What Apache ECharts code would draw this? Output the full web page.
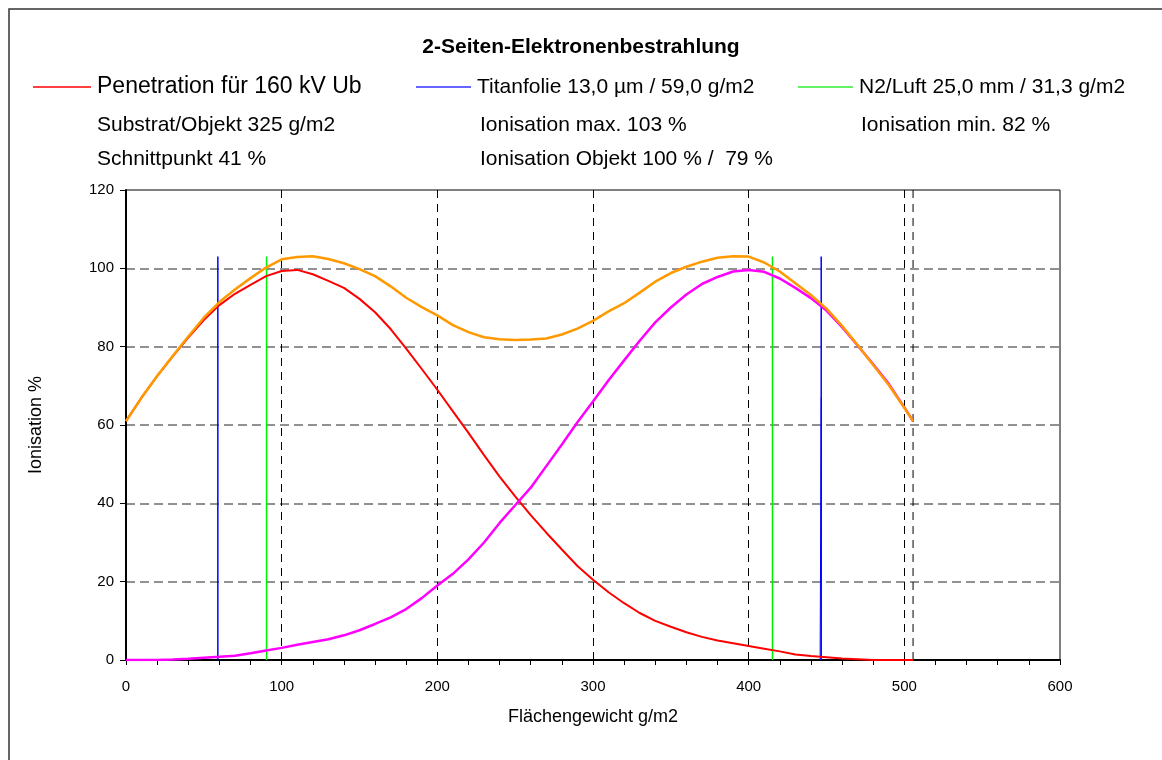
<!DOCTYPE html>
<html>
<head>
<meta charset="utf-8">
<title>2-Seiten-Elektronenbestrahlung</title>
<script src="https://cdn.jsdelivr.net/npm/echarts@6/dist/echarts.min.js"></script>
<style>
  html, body { margin: 0; padding: 0; background: #fff; }
  #chart { width: 1162px; height: 760px; }
</style>
</head>
<body>
<div id="chart"></div>
<script>
// Flächengewicht (g/m2) sample points
const weights = [0, 10, 20, 30, 40, 50, 60, 70, 80, 90, 100, 110, 120, 130, 140, 150, 160, 170, 180, 190,
  200, 210, 220, 230, 240, 250, 260, 270, 280, 290, 300, 310, 320, 330, 340, 350, 360, 370, 380, 390,
  400, 410, 420, 430, 440, 450, 460, 470, 480, 490, 500, 505.6];
// penetration from the left side (red)
const penLeft = [61, 67, 72.5, 77.5, 82.3, 86.8, 90.6, 93.5, 95.8, 98, 99.3, 99.6, 98.5, 96.8, 95, 92.2, 88.8, 84.5, 79.5, 74.3,
  69, 63.5, 58, 52.3, 46.8, 41.8, 37, 32.5, 28.2, 24, 20.5, 17.3, 14.5, 12, 10, 8.5, 7.1, 5.9, 5, 4.3,
  3.6, 2.9, 2.2, 1.4, 1, 0.7, 0.4, 0.2, 0, 0, 0, 0];
// penetration from the right side (magenta)
const penRight = [0, 0, 0, 0.1, 0.3, 0.6, 0.8, 1.1, 1.7, 2.4, 3.1, 3.9, 4.6, 5.3, 6.3, 7.6, 9.2, 10.9, 13, 15.8,
  19, 22, 25.7, 30, 35, 39.5, 44, 49.5, 55, 60.7, 66, 71.4, 76.5, 81.5, 86.2, 90, 93.3, 96, 97.8, 99.2,
  99.6, 99.1, 97.4, 95, 92.4, 89.2, 85, 80.3, 75.5, 70.5, 64.5, 61];
// total ionisation (orange)
const total = [61, 67, 72.5, 77.6, 82.6, 87.4, 91.4, 94.6, 97.5, 100.2, 102.3, 102.9, 103.1, 102.4, 101.3, 99.8, 98, 95.4, 92.5, 90.1,
  88, 85.5, 83.7, 82.4, 81.9, 81.7, 81.8, 82.1, 83.1, 84.6, 86.6, 89, 91.1, 93.8, 96.6, 98.8, 100.4, 101.7, 102.7, 103.1,
  103, 101.5, 99.2, 96.2, 93.2, 89.7, 85.3, 80.4, 75.3, 70.2, 64.4, 61];

// layer boundaries
const foilPos = [59, 446.6];
const airPos = [90.3, 415.3];
const markerTop = 103;
const totalEnd = 505.6;
const axisMax = 120;

const nameRed = "Penetration für 160 kV Ub";
const nameBlue = "Titanfolie 13,0 µm / 59,0 g/m2";
const nameGreen = "N2/Luft 25,0 mm / 31,3 g/m2";
const infoTexts = [
  ["Substrat/Objekt 325 g/m2", 97, 123.5],
  ["Ionisation max. 103 %", 480, 123.5],
  ["Ionisation min. 82 %", 861, 123.5],
  ["Schnittpunkt 41 %", 97, 158],
  ["Ionisation Objekt 100 % /  79 %", 480, 158]
];

const font = "Liberation Sans, Arial, sans-serif";
const pairs = (ys) => weights.map((w, i) => [w, ys[i]]);

const vline = (name, x, color) => ({
  name: name,
  type: "line",
  data: [[x, 0], [x, markerTop]],
  showSymbol: false,
  silent: true,
  z: 1,
  lineStyle: { color: color, width: 1.5 },
  itemStyle: { color: color },
});

const legendItem = (name, left, width, color, size) => ({
  data: [{ name: name, itemStyle: { color: color } }],
  left: left, top: 88 - size / 2 - 1, padding: 0,
  icon: "rect", itemWidth: width, itemHeight: 1.5,
  selectedMode: false,
  textStyle: { fontSize: size, color: "#000", padding: [0, 0, 0, 1] },
});

const chart = echarts.init(document.getElementById("chart"));
const option = {
  animation: false,
  backgroundColor: "#fff",
  textStyle: { fontFamily: font },
  title: {
    text: "2-Seiten-Elektronenbestrahlung",
    left: "center",
    top: 32,
    textStyle: { fontSize: 21, fontWeight: "bold", color: "#000", fontFamily: font },
  },
  legend: [
    legendItem(nameRed, 33, 58, "#ff0000", 23),
    legendItem(nameBlue, 416, 55, "#3333ff", 21),
    legendItem(nameGreen, 798, 55, "#33ee33", 21),
  ],
  graphic: [
    {
      type: "rect", silent: true,
      shape: { x: 9, y: 9, width: 1200, height: 800 },
      style: { fill: "none", stroke: "#333", lineWidth: 1.5 },
    },
  ].concat(infoTexts.map((t) => ({
    type: "text", left: t[1], top: t[2] - 9,
    style: { text: t[0], fontSize: 21, fill: "#000", fontFamily: font },
  }))),
  grid: {
    left: 126, right: 102, top: 190, bottom: 100,
    show: true, borderColor: "#000", borderWidth: 1,
  },
  xAxis: {
    type: "value", min: 0, max: 600, interval: 100,
    name: "Flächengewicht g/m2", nameLocation: "middle", nameGap: 48,
    nameTextStyle: { fontSize: 18, color: "#000" },
    axisLine: { lineStyle: { color: "#000", width: 2 } },
    axisTick: { length: 5, lineStyle: { color: "#000" } },
    minorTick: { show: true, splitNumber: 5, length: 5, lineStyle: { color: "#000" } },
    axisLabel: { fontSize: 15, color: "#000", margin: 19 },
    splitLine: {
      show: true, showMinLine: false, showMaxLine: false,
      lineStyle: { color: "#000", type: [8, 6], width: 1 },
    },
  },
  yAxis: {
    type: "value", min: 0, max: axisMax, interval: 20,
    name: "Ionisation %", nameLocation: "middle", nameGap: 81,
    nameTextStyle: { fontSize: 18, color: "#000" },
    axisLine: { show: true, lineStyle: { color: "#000", width: 2 } },
    axisTick: { show: true, length: 6, lineStyle: { color: "#000" } },
    axisLabel: { fontSize: 15, color: "#000", margin: 12 },
    splitLine: {
      show: true, showMinLine: false, showMaxLine: false,
      lineStyle: { color: "#6e6e6e", type: [9, 5], width: 1.5 },
    },
  },
  series: [
    vline(nameBlue, foilPos[0], "#0000ff"),
    vline(nameBlue, foilPos[1], "#0000ff"),
    {
      name: nameBlue, type: "line", showSymbol: false, silent: true, z: 1,
      data: [[foilPos[1] - 0.7, 0], [foilPos[1], 67]],
      lineStyle: { color: "#0000ff", width: 1 }, itemStyle: { color: "#0000ff" },
    },
    vline(nameGreen, airPos[0], "#00ee00"),
    vline(nameGreen, airPos[1], "#00ee00"),
    {
      name: "end", type: "line", showSymbol: false, silent: true, z: 1,
      data: [[totalEnd, 0], [totalEnd, axisMax]],
      lineStyle: { color: "#000", width: 1, type: [8, 6] },
    },
    {
      name: nameRed, type: "line", data: pairs(penLeft), showSymbol: false, z: 3,
      lineStyle: { color: "#ff0000", width: 2 }, itemStyle: { color: "#ff0000" },
    },
    {
      name: "rechts", type: "line", data: pairs(penRight), showSymbol: false, z: 3,
      lineStyle: { color: "#ff00ff", width: 2.5 }, itemStyle: { color: "#ff00ff" },
    },
    {
      name: "Summe", type: "line", data: pairs(total), showSymbol: false, z: 4,
      lineStyle: { color: "#ff9900", width: 2.5 }, itemStyle: { color: "#ff9900" },
    },
  ],
};
chart.setOption(option);
</script>
</body>
</html>
